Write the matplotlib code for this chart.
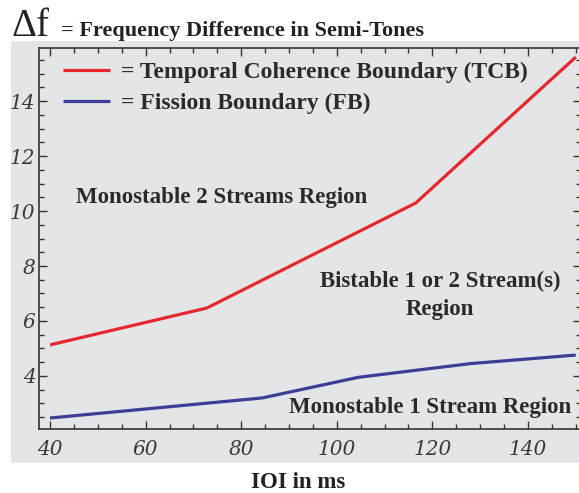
import matplotlib
matplotlib.use("Agg")
import matplotlib.pyplot as plt
from matplotlib.patches import Rectangle
from matplotlib.ticker import MultipleLocator

# data (IOI in ms, frequency difference in semi-tones)
tcb_ioi = [40, 72.8, 116.5, 150]
tcb_df = [5.13, 6.47, 10.29, 15.6]
fb_ioi = [40, 84.4, 104.5, 128, 150]
fb_df = [2.47, 3.2, 3.95, 4.45, 4.76]

x_ticks = [40, 60, 80, 100, 120, 140]
y_ticks = [4, 6, 8, 10, 12, 14]

tcb_label = "= Temporal Coherence Boundary (TCB)"
fb_label = "= Fission Boundary (FB)"

red = "#e5282d"
blue = "#3c3d97"
serif = "Liberation Serif"

fig = plt.figure(figsize=(5.79, 4.93), dpi=100)

# grey backdrop behind the frame
fig.patches.append(Rectangle((0.019, 0.061), 0.981, 0.856, transform=fig.transFigure,
                             facecolor="#e4e5e6", edgecolor="none", zorder=-5))

ax = fig.add_axes([0.0674, 0.1298, 0.9361, 0.7728])
ax.set_facecolor("none")
ax.set_zorder(2)

ax.plot(tcb_ioi, tcb_df, color=red, lw=2.3, label=tcb_label, solid_capstyle="butt")
ax.plot(fb_ioi, fb_df, color=blue, lw=2.3, label=fb_label, solid_capstyle="butt")

ax.set_xlim(37.7, 151.1)
ax.set_ylim(2.07, 15.93)

# Liberation Serif has no italic face here, DejaVu Serif does
tick_font = dict(family="DejaVu Serif", style="italic", size=14.5, color="#3a3a3a")
ax.set_xticks(x_ticks)
ax.set_xticklabels([str(v) for v in x_ticks], **tick_font)
ax.set_yticks(y_ticks)
ax.set_yticklabels([str(v) for v in y_ticks], **tick_font)
ax.xaxis.set_minor_locator(MultipleLocator(5))
ax.yaxis.set_minor_locator(MultipleLocator(0.5))
ax.tick_params(which="both", direction="in", top=True, right=True, color="#333333", width=1)
ax.tick_params(which="major", length=6)
ax.tick_params(which="minor", length=3.5)
ax.tick_params(axis="x", pad=8)
ax.tick_params(axis="y", pad=2.5)
for sp in ax.spines.values():
    sp.set_color("#333333")
    sp.set_linewidth(1.2)

txt = dict(family=serif, fontweight="bold", fontsize=16.5, color="#2a2a2a",
           ha="center", va="center")
ax.text(75.8, 10.5, "Monostable 2 Streams Region", **txt)
ax.text(121.6, 7.42, "Bistable 1 or 2 Stream(s)", **txt)
ax.text(121.6, 6.4, "Region", **txt)
ax.text(119.5, 2.84, "Monostable 1 Stream Region", **txt)

leg = ax.legend(loc="upper left", bbox_to_anchor=(0.044, 0.965), frameon=False,
                borderpad=0, borderaxespad=0, handlelength=2.0, handletextpad=0.45,
                labelspacing=0.4, prop=dict(family=serif, weight="bold", size=17))
for t in leg.get_texts():
    t.set_color("#2a2a2a")

fig.text(0.019, 0.947, "\u0394f", family=serif, fontsize=28, color="#222222", va="center")
fig.text(0.105, 0.937, "= Frequency Difference in Semi-Tones", family=serif,
         fontweight="bold", fontsize=16, color="#222222", va="center")
fig.text(0.515, 0.022, "IOI in ms", family=serif, fontweight="bold", fontsize=16.5,
         color="#222222", ha="center", va="center")

fig.savefig("out.png", dpi=100)
